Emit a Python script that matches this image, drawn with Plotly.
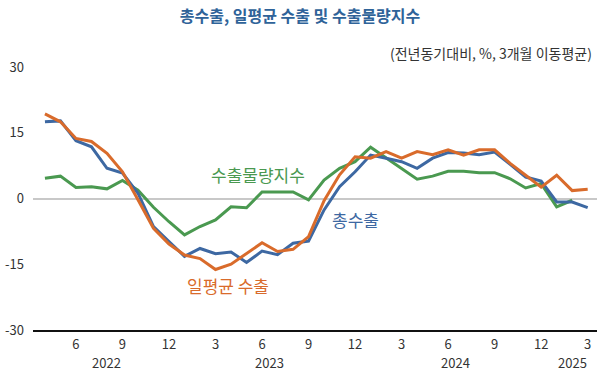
import plotly.graph_objects as go

months = [f"{y}-{m:02d}" for y, m in
          [(2022, m) for m in range(4, 13)] + [(2023, m) for m in range(1, 13)] +
          [(2024, m) for m in range(1, 13)] + [(2025, m) for m in range(1, 4)]]

total_exports = [17.5, 17.7, 13.2, 11.8, 6.9, 5.8, 1.2, -6.4, -9.8, -13.2, -11.4, -12.6,
                 -12.2, -14.6, -12.0, -12.8, -10.2, -9.7, -2.6, 2.7, 6.1, 9.9, 9.2, 8.4,
                 6.9, 9.2, 10.5, 10.4, 10.0, 10.6, 7.8, 4.9, 4.0, -0.8, -0.8, -2.1]
daily_avg_exports = [19.3, 17.5, 13.7, 13.0, 10.3, 6.1, -0.3, -6.8, -10.4, -12.9, -13.7, -16.2,
                     -15.0, -12.5, -10.1, -12.1, -11.6, -8.7, -0.5, 5.4, 9.5, 9.2, 10.7, 9.2,
                     10.7, 10.0, 11.1, 9.9, 11.1, 11.1, 8.0, 5.3, 2.6, 5.3, 1.8, 2.1]
volume_index = [4.6, 5.1, 2.5, 2.7, 2.2, 4.1, 1.9, -2.0, -5.3, -8.3, -6.4, -4.9,
                -1.9, -2.1, 1.5, 1.5, 1.5, -0.3, 4.2, 6.9, 8.4, 11.7, 9.2, 6.8,
                4.4, 5.1, 6.2, 6.2, 5.9, 5.9, 4.5, 2.4, 3.4, -1.9, -0.4]

tick_months = months[2::3]
tick_labels = ["6", "9", "12", "3", "6", "9", "12", "3", "6", "9", "12", "3"]
y_ticks = [-30, -15, 0, 15, 30]
y_tick_labels = ["-30", "-15", "0", "15", "30"]
year_labels = ["2022", "2023", "2024", "2025"]
year_centers = ["2022-08", "2023-06", "2024-06", "2025-02"]
year_offsets = [0, 0.5, 0.5, 0]

BLUE = "#3D68A2"
ORANGE = "#D96B2B"
GREEN = "#4A9950"
FONT = "Noto Sans CJK KR"

fig = go.Figure()
fig.add_trace(go.Scatter(x=months[:len(volume_index)], y=volume_index, mode="lines",
                         line=dict(color=GREEN, width=3), name="수출물량지수"))
fig.add_trace(go.Scatter(x=months, y=total_exports, mode="lines",
                         line=dict(color=BLUE, width=3), name="총수출"))
fig.add_trace(go.Scatter(x=months, y=daily_avg_exports, mode="lines",
                         line=dict(color=ORANGE, width=3), name="일평균 수출"))

fig.update_layout(
    width=600, height=373,
    margin=dict(l=33, r=3, t=67, b=43),
    paper_bgcolor="white", plot_bgcolor="white",
    showlegend=False,
    font=dict(family=FONT, size=13, color="#333333"),
    title=dict(text="<b>총수출, 일평균 수출 및 수출물량지수</b>", x=0.5, xanchor="center",
               y=0.955, yanchor="middle", font=dict(family=FONT, size=16, color="#2F6399")),
)

fig.update_xaxes(type="category", categoryorder="array", categoryarray=months,
                 range=[-0.77, 35.6], tickmode="array", tickvals=tick_months,
                 ticktext=tick_labels, showgrid=False, ticks="", showline=True,
                 linecolor="#111111", linewidth=2, ticklabelstandoff=1,
                 tickfont=dict(size=13, color="#333333"))
fig.update_yaxes(range=[-30, 30], tickmode="array", tickvals=y_ticks, ticktext=y_tick_labels,
                 showgrid=False, zeroline=True, zerolinecolor="#C8C8C8", zerolinewidth=2,
                 ticks="", ticklabelstandoff=8, tickfont=dict(size=13, color="#333333"))

for lab, c, off in zip(year_labels, year_centers, year_offsets):
    fig.add_annotation(x=months.index(c) + off, y=0, xref="x", yref="paper",
                       text=lab, showarrow=False, yanchor="top", yshift=-21,
                       font=dict(size=13, color="#333333"))

fig.add_annotation(x=0.995, y=1.055, xref="paper", yref="paper", xanchor="right",
                   yanchor="middle", text="(전년동기대비, %, 3개월 이동평균)", showarrow=False,
                   font=dict(size=14, color="#333333"))
fig.add_annotation(x=13.75, y=5.4, text="수출물량지수", showarrow=False,
                   font=dict(size=17, color=GREEN))
fig.add_annotation(x=20.05, y=-4.8, text="총수출", showarrow=False,
                   font=dict(size=17, color=BLUE))
fig.add_annotation(x=11.8, y=-19.8, text="일평균 수출", showarrow=False,
                   font=dict(size=17, color=ORANGE))

fig.write_html("out.html", config={"displayModeBar": False},
               post_script="document.body.style.margin='0';document.body.style.overflow='hidden';")
